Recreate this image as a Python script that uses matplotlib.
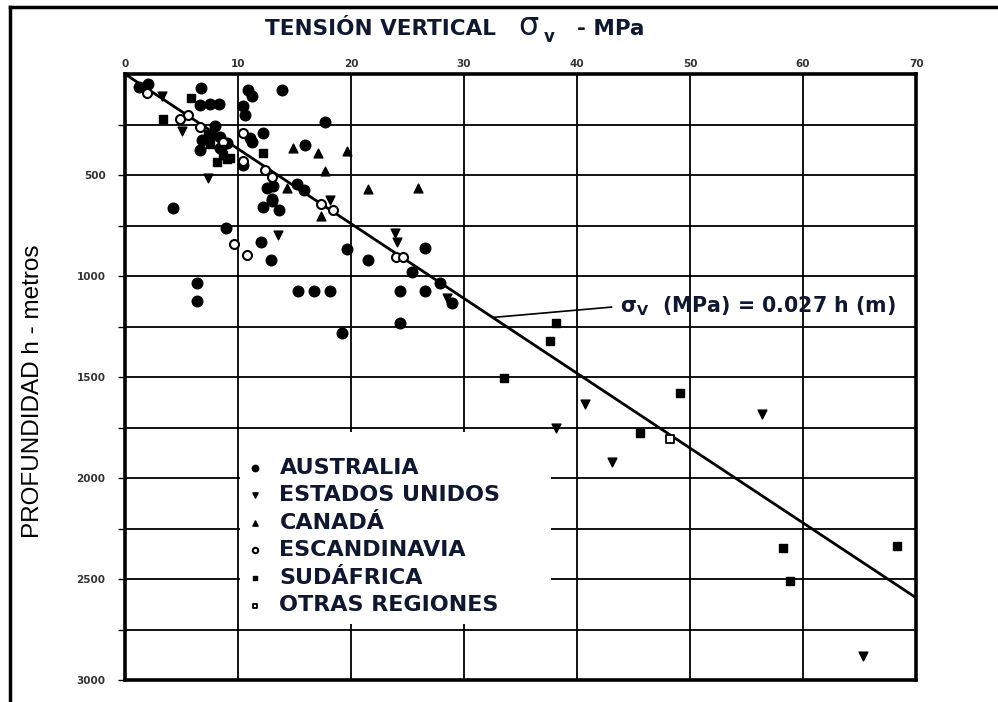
import matplotlib.pyplot as plt
from matplotlib.lines import Line2D
from matplotlib.patches import Rectangle

# stress (MPa) and depth (m) for each region
aus_x = [1.2, 2.0, 6.7, 6.6, 7.5, 8.3, 10.9, 11.2, 10.4, 10.6, 13.9, 17.7, 8.0, 12.2, 11.2,
         15.9, 10.4, 12.6, 13.1, 15.2, 15.8, 13.0, 4.2, 12.2, 13.0, 13.6, 8.9, 12.0, 12.9,
         6.4, 6.4, 15.3, 16.7, 18.1, 19.6, 21.5, 26.5, 25.4, 27.9, 24.3, 26.5, 28.9, 24.3,
         19.2, 6.8, 8.4, 6.6, 7.7, 9.0, 8.4, 11.1]
aus_h = [64, 50, 69, 154, 149, 149, 79, 109, 159, 203, 79, 238, 258, 293, 337,
         352, 451, 565, 555, 545, 575, 620, 664, 659, 630, 674, 763, 833, 922,
         1036, 1125, 1076, 1076, 1076, 868, 922, 863, 982, 1036, 1076, 1076, 1135, 1230,
         1284, 327, 312, 377, 302, 342, 367, 317]

usa_x = [3.3, 5.0, 7.3, 13.5, 18.1, 23.9, 24.1, 28.5, 40.7, 38.1, 43.1, 56.4, 65.3]
usa_h = [109, 283, 516, 798, 625, 788, 833, 1111, 1631, 1750, 1919, 1681, 2881]

can_x = [14.9, 17.1, 19.6, 17.7, 21.5, 25.9, 14.3, 17.3]
can_h = [367, 392, 382, 481, 570, 565, 565, 704]

esc_x = [1.9, 5.6, 4.9, 6.6, 10.4, 10.4, 12.4, 13.0, 17.3, 18.4, 9.6, 10.8, 24.0, 24.6, 8.7]
esc_h = [94, 203, 223, 263, 293, 431, 476, 511, 645, 674, 843, 897, 907, 907, 337]

saf_x = [5.8, 3.4, 12.2, 7.3, 7.5, 8.6, 9.0, 8.1, 8.7, 9.3,
         38.1, 37.6, 33.5, 49.1, 45.6, 58.2, 68.3, 58.8]
saf_h = [119, 223, 392, 297, 347, 372, 421, 436, 402, 417,
         1230, 1324, 1507, 1577, 1775, 2345, 2335, 2509]

otr_x = [48.2]
otr_h = [1805]

fit_h = [0, 2593]
fit_x = [0.027 * h for h in fit_h]

navy = '#101830'

fig = plt.figure(figsize=(9.98, 7.02), dpi=100)
ax = fig.add_axes([0.1253, 0.0313, 0.7926, 0.8632])

ax.set_xlim(0, 70)
ax.set_ylim(3000, 0)
ax.xaxis.tick_top()
ax.set_xticks(range(0, 71, 10))
ax.set_yticks(range(500, 3001, 500))
ax.set_yticks(range(250, 3000, 500), minor=True)
ax.tick_params(axis='x', length=0, pad=4, labelsize=7.5, labelcolor='#333333')
ax.tick_params(axis='y', which='both', length=5, width=1, pad=9, labelsize=7.5, labelcolor='#333333')
for lab in ax.get_xticklabels() + ax.get_yticklabels():
    lab.set_fontweight('bold')
ax.grid(True, which='both', color='black', lw=1.3)
ax.set_axisbelow(True)
for s in ax.spines.values():
    s.set_linewidth(2.6)

# white patch where the legend was pasted over the grid
ax.add_patch(Rectangle((0.145, 0.092), 0.394, 0.318, transform=ax.transAxes,
                       facecolor='white', edgecolor='none', zorder=1.5))

ax.plot(fit_x, fit_h, color='black', lw=2, zorder=3)

ax.scatter(aus_x, aus_h, marker='o', s=58, color='black', zorder=4, label='AUSTRALIA')
ax.scatter(usa_x, usa_h, marker='v', s=40, color='black', zorder=4, label='ESTADOS UNIDOS')
ax.scatter(can_x, can_h, marker='^', s=40, color='black', zorder=4, label='CANADÁ')
ax.scatter(esc_x, esc_h, marker='o', s=42, facecolor='white', edgecolor='black', lw=1.5,
           zorder=4, label='ESCANDINAVIA')
ax.scatter(saf_x, saf_h, marker='s', s=34, color='black', zorder=4, label='SUDÁFRICA')
ax.scatter(otr_x, otr_h, marker='s', s=30, facecolor='white', edgecolor='black', lw=1.3,
           zorder=4, label='OTRAS REGIONES')

leg = ax.legend(loc='upper left', bbox_to_anchor=(0.125, 0.40), frameon=False,
                markerscale=0.6, handletextpad=0.6, handlelength=1.0, labelspacing=0.34,
                prop={'family': 'DejaVu Sans', 'weight': 'bold', 'size': 16})
for t in leg.get_texts():
    t.set_color(navy)

ax.annotate(r'$\mathbf{\sigma_V}$  (MPa) = 0.027 h (m)', xy=(0.027 * 1205, 1205),
            xytext=(43.8, 1150), ha='left', va='center', fontsize=14.8, fontweight='bold',
            color=navy, arrowprops=dict(arrowstyle='-', color='black', lw=1.2,
                                        relpos=(0, 0.5), shrinkA=4, shrinkB=0))

# title pieces
fig.text(0.2655, 0.950, 'TENSIÓN VERTICAL', fontsize=15.5, fontweight='bold', color=navy,
         va='baseline', ha='left')
fig.text(0.519, 0.950, 'σ', fontsize=23, color=navy, va='baseline', ha='left')
fig.text(0.545, 0.940, 'v', fontsize=12, fontweight='bold', color=navy, va='baseline', ha='left')
fig.text(0.578, 0.950, '- MPa', fontsize=15.5, fontweight='bold', color=navy,
         va='baseline', ha='left')

fig.text(0.033, 0.443, 'PROFUNDIDAD h - metros', rotation=90, fontsize=17.5,
         family='Liberation Sans', ha='center', va='center')

# outer frame of the picture
fig.add_artist(Line2D([0.010, 1.0], [0.990, 0.990], color='black', lw=2.5, transform=fig.transFigure))
fig.add_artist(Line2D([0.010, 0.010], [0.0, 0.990], color='black', lw=2.5, transform=fig.transFigure))

fig.savefig('out.png', dpi=100)
